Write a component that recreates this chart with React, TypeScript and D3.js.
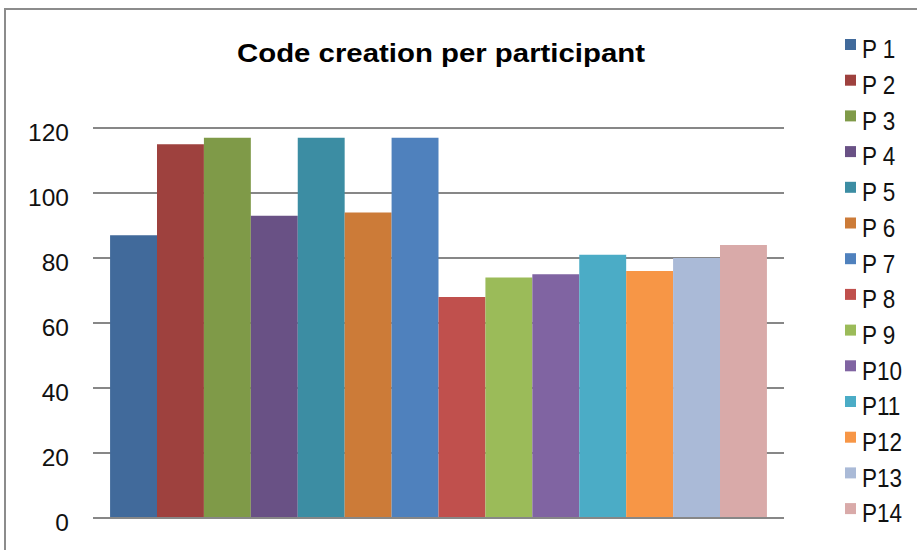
import React from "react";
import * as d3 from "d3";

const participants = ["P 1","P 2","P 3","P 4","P 5","P 6","P 7","P 8","P 9","P10","P11","P12","P13","P14"];
const values = [87,115,117,93,117,94,117,68,74,75,81,76,80,84];
const colors = ["#416A9B","#9E413E","#7F9A48","#695185","#3C8DA3","#CC7B38","#4F81BD","#C0504D","#9BBB59","#8064A2","#4BACC6","#F79646","#AABAD7","#D9AAA9"];
const yTicks = [0,20,40,60,80,100,120];
const title = "Code creation per participant";

export default function App() {
  const W = 917, H = 550;
  const plotL = 93, plotR = 784, plotT = 128, plotB = 518;
  const y = d3.scaleLinear().domain([0, 120]).range([plotB, plotT]);
  const x = d3.scaleBand<string>().domain(["g"]).range([plotL, plotR]).paddingInner(0).paddingOuter(0.026);
  const groupW = x.bandwidth();
  const xi = d3.scaleBand<string>().domain(participants).range([x("g")!, x("g")! + groupW]).padding(0);
  const font = "Arial, 'Liberation Sans', sans-serif";
  return (
    <svg width={W} height={H} style={{ position: "absolute", left: 0, top: 0, display: "block", background: "#fff" }} fontFamily={font}>
      <rect x={5} y={9} width={W} height={H} fill="#fff" stroke="#8c8c8c" strokeWidth={2} />
      <text x={237} y={62} fontSize={26.5} fontWeight="bold" fill="#000" textLength={408} lengthAdjust="spacingAndGlyphs">{title}</text>
      {yTicks.map((t) => (
        <g key={t}>
          <line x1={plotL} x2={plotR} y1={y(t)} y2={y(t)} stroke="#878787" strokeWidth={2} />
          <text x={69} y={y(t) + 13} textAnchor="end" fontSize={24.5} fill="#111">{t}</text>
        </g>
      ))}
      {participants.map((p, i) => (
        <rect key={p} x={xi(p)!} y={y(values[i])} width={xi.bandwidth()} height={y(0) - y(values[i])} fill={colors[i]} />
      ))}
      <line x1={plotL} x2={plotR} y1={y(0)} y2={y(0)} stroke="#878787" strokeWidth={2} />
      {participants.map((p, i) => (
        <g key={p} transform={`translate(845, ${45 + i * 35.7})`}>
          <rect x={0} y={-6} width={11} height={11} fill={colors[i]} />
          <text transform="translate(17, 13.3) scale(1, 1.17)" x={0} y={0} fontSize={22.5} fill="#111">{p}</text>
        </g>
      ))}
    </svg>
  );
}
